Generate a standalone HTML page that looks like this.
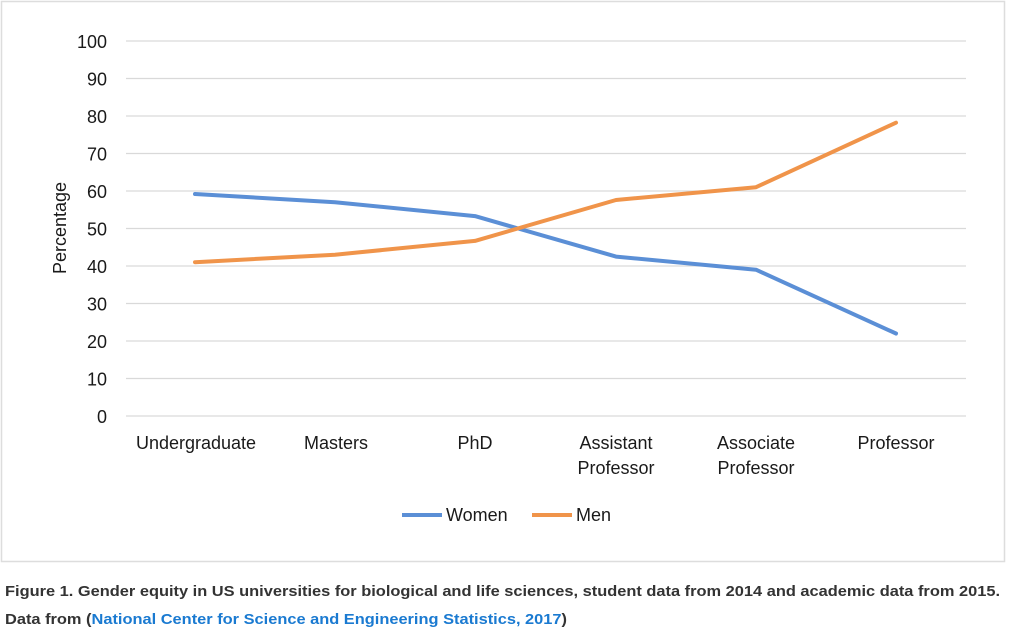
<!DOCTYPE html>
<html><head><meta charset="utf-8"><style>
html,body{margin:0;padding:0;background:#fff;}
svg{display:block;font-family:"Liberation Sans",sans-serif;}
</style></head><body>
<svg width="1023" height="642" viewBox="0 0 1023 642">
<rect x="1.5" y="1.5" width="1003" height="560" fill="#fff" stroke="#ddd" stroke-width="1.5"/>
<g stroke="#d9d9d9" stroke-width="1.3">
<line x1="126" x2="966" y1="41" y2="41"/><line x1="126" x2="966" y1="78.5" y2="78.5"/>
<line x1="126" x2="966" y1="116" y2="116"/><line x1="126" x2="966" y1="153.5" y2="153.5"/>
<line x1="126" x2="966" y1="191" y2="191"/><line x1="126" x2="966" y1="228.5" y2="228.5"/>
<line x1="126" x2="966" y1="266" y2="266"/><line x1="126" x2="966" y1="303.5" y2="303.5"/>
<line x1="126" x2="966" y1="341" y2="341"/><line x1="126" x2="966" y1="378.5" y2="378.5"/>
<line x1="126" x2="966" y1="416" y2="416"/>
</g>
<g font-size="18" fill="#1a1a1a" text-anchor="end">
<text x="107" y="48">100</text><text x="107" y="85.5">90</text><text x="107" y="123">80</text>
<text x="107" y="160.5">70</text><text x="107" y="198">60</text><text x="107" y="235.5">50</text>
<text x="107" y="273">40</text><text x="107" y="310.5">30</text><text x="107" y="348">20</text>
<text x="107" y="385.5">10</text><text x="107" y="423">0</text>
</g>
<text transform="translate(66,228) rotate(-90)" font-size="18" fill="#1a1a1a" text-anchor="middle">Percentage</text>
<g font-size="18" fill="#1a1a1a" text-anchor="middle">
<text x="196" y="449">Undergraduate</text><text x="336" y="449">Masters</text><text x="475" y="449">PhD</text>
<text x="616" y="449">Assistant</text><text x="616" y="474">Professor</text>
<text x="756" y="449">Associate</text><text x="756" y="474">Professor</text>
<text x="896" y="449">Professor</text>
</g>
<polyline fill="none" stroke="#5b8fd6" stroke-width="4" stroke-linejoin="round" stroke-linecap="round"
 points="195,194 335,202.2 475,216.1 616,256.6 756,269.7 896,333.5"/>
<polyline fill="none" stroke="#f0944a" stroke-width="4" stroke-linejoin="round" stroke-linecap="round"
 points="195,262.2 335,254.7 475,240.9 616,200 756,187.2 896,122.7"/>
<line x1="402" x2="442" y1="515" y2="515" stroke="#5b8fd6" stroke-width="4"/>
<text x="446" y="521" font-size="18" fill="#1a1a1a">Women</text>
<line x1="532" x2="572" y1="515" y2="515" stroke="#f0944a" stroke-width="4"/>
<text x="576" y="521" font-size="18" fill="#1a1a1a">Men</text>
<g font-size="15" font-weight="bold" fill="#333">
<text x="5" y="596" textLength="995" lengthAdjust="spacingAndGlyphs">Figure 1. Gender equity in US universities for biological and life sciences, student data from 2014 and academic data from 2015.</text>
<text x="5" y="624" textLength="562" lengthAdjust="spacingAndGlyphs">Data from (<tspan fill="#1a7ad1">National Center for Science and Engineering Statistics, 2017</tspan>)</text>
</g>
</svg>
</body></html>
